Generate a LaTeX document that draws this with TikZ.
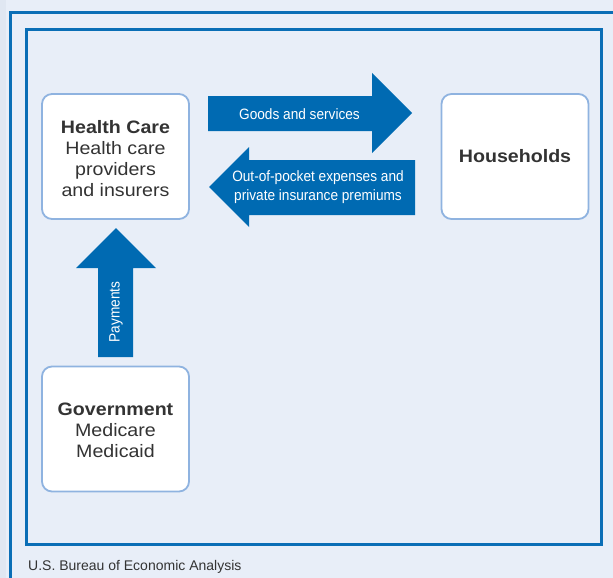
\documentclass[tikz,border=0pt]{standalone}
\usepackage{fontspec}
\setmainfont{Liberation Sans}
\newfontfamily\narrowfont{Liberation Sans}[FakeStretch=0.91]
\newfontfamily\widefont{Liberation Sans}[FakeStretch=1.09]
\definecolor{bgblue}{HTML}{E8EEF8}
\definecolor{stripblue}{HTML}{E0E7F2}
\definecolor{frameblue}{HTML}{0A6EB6}
\definecolor{frameedge}{HTML}{5E9CD4}
\definecolor{arrowblue}{HTML}{006AB2}
\definecolor{boxline}{HTML}{8FB3E0}
\definecolor{txtgray}{HTML}{333333}
\tikzset{
  frame/.style={draw=frameblue,line width=3pt},
  box/.style={draw=boxline,fill=white,line width=1.8pt,rounded corners=10pt,minimum width=147pt,minimum height=125pt,inner sep=0pt},
  boxtext/.style={align=center,text=txtgray,font=\widefont\fontsize{18}{21}\selectfont,inner sep=0pt},
  blockarrow/.style={fill=arrowblue},
  arrowtext/.style={align=center,text=white,font=\narrowfont\fontsize{15}{19}\selectfont,inner sep=0pt},
  foot/.style={text=txtgray,font=\fontsize{14}{16}\selectfont,inner sep=0pt}
}
\begin{document}
\begin{tikzpicture}[x=1pt,y=-1pt]
\useasboundingbox (0,0) rectangle (613,578);
\clip (0,0) rectangle (613,578);
\fill[bgblue] (0,0) rectangle (613,578);
\fill[stripblue] (0,0) rectangle (6,578);
\draw[frame] (10.5,700) -- (10.5,12.2) -- (700,12.2);
\draw[frame] (26.5,29.8) rectangle (601.5,544.5);
% boxes
\node[box] (hc) at (115.5,156.5) {};
\node[box] (hh) at (515,156.5) {};
\node[box] (gov) at (115.5,429) {};
\node[boxtext] (hctext) at (115.5,158.5) {\textbf{Health Care}\\Health care\\providers\\and insurers};
\node[boxtext] (hhtext) at (hh) {\textbf{Households}};
\node[boxtext] (govtext) at (115.5,430) {\textbf{Government}\\Medicare\\Medicaid};
% arrows
\fill[blockarrow] (208,96) -- (372,96) -- (372,73) -- (412,113) -- (372,153) -- (372,131) -- (208,131) -- cycle;
\fill[blockarrow] (415,160) -- (249,160) -- (249,147) -- (209,187) -- (249,227) -- (249,215) -- (415,215) -- cycle;
\fill[blockarrow] (98,357) -- (98,268) -- (76,268) -- (116,228) -- (156,268) -- (133,268) -- (133,357) -- cycle;
\node[arrowtext] (goods) at (299.5,114) {Goods and services};
\node[arrowtext] (oop) at (318,187.5) {Out-of-pocket expenses and\\private insurance premiums};
\node[arrowtext,rotate=90] (pay) at (116,312) {Payments};
\node[foot,anchor=base west] (src) at (28,570) {U.S. Bureau of Economic Analysis};
\end{tikzpicture}
\end{document}
